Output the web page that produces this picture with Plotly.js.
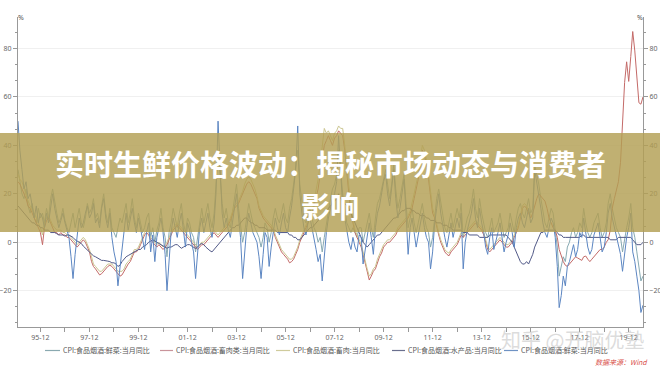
<!DOCTYPE html>
<html><head><meta charset="utf-8">
<script src="https://cdn.plot.ly/plotly-3.0.1.min.js"></script>
<style>html,body{margin:0;padding:0;background:#fff;}#chart{width:660px;height:367px;}</style>
</head><body><div id="chart"></div>
<script>
// ---------- data ----------
const startYear = 1995;           // first month: 1995-01 (month-end values)
const monthCount = 307;           // 1995-01 .. 2020-07

const seriesNames = [
  "CPI:食品烟酒:鲜菜:当月同比",
  "CPI:食品烟酒:畜肉类:当月同比",
  "CPI:食品烟酒:畜肉:当月同比",
  "CPI:食品烟酒:水产品:当月同比",
  "CPI:食品烟酒:鲜菜:当月同比"
];

const vegA = [
 30,26,20,18,22,15,12,16,10,8,14,10,
 12,8,14,10,18,22,16,12,8,10,14,9,
 6,4,8,12,6,10,14,8,6,10,16,12,
 14,18,10,12,8,15,20,12,8,14,6,4,
 2,6,10,8,12,16,8,12,18,10,6,12,
 8,4,6,10,12,2,6,0,5,8,14,6,
 2,-6,4,8,14,10,6,12,16,8,4,10,
 8,4,2,-4,2,10,14,8,12,16,10,6,
 12,24,36,28,16,10,14,8,6,12,18,24,
 14,6,0,4,10,16,12,8,6,4,2,-2,
 2,8,6,0,4,10,14,10,8,12,16,10,
 8,14,18,24,32,38,24,16,10,8,12,14,
 10,6,4,0,2,-4,2,8,14,18,22,24,
 28,38,30,20,14,8,6,4,6,4,2,6,
 6,0,4,8,12,6,2,10,16,18,22,26,
 30,24,18,24,32,22,14,18,24,28,16,6,
 10,14,8,4,8,12,16,10,6,4,-2,2,
 12,18,22,16,10,6,4,8,12,6,10,14,
 10,16,2,6,10,12,16,22,14,10,18,12,
 8,4,2,6,10,4,6,8,12,6,2,4,
 6,12,8,4,10,14,16,12,10,14,18,12,
 14,32,28,24,18,12,8,6,10,14,12,6,
 -2,-14,-10,-6,-8,-2,0,4,6,2,4,8,
 6,14,8,4,2,4,8,10,12,6,2,4,
 8,16,20,14,10,6,4,2,-4,2,6,10,
 16,6,2,-4,-10,-16,-14
];

const meatClass = [
 25,24,22,20,18,15,14,12,10,8,6,4,
 -1,6,9,10,8,6,4,4,3,4,3,3,
 2,2,1,0,-1,-2,-1,0,1,0,-2,-4,
 -8,-10,-11,-12,-13.5,-13,-12,-11,-10,-9.5,-10,-11,
 -12,-13,-14,-13.5,-12,-10,-9,-8,-6,-4,-4,-3,
 -1,1,3,4,3,1,0,-1,-2,-1,-2,-3,
 -2,-1,1,3,5,6,7,6,5,4,3,2,
 1,0,-1,-2,-3,-2,-1,-1,0,1,2,3,
 4,3,2,3,4,5,6,7,9,12,14,15,
 16,18,20,22,24,25,24,22,20,18,14,12,
 10,9,8,7,6,5,2,0,-2,-4,-5,-6,
 -7,-8.5,-8,-7,-5,-3,0,2,4,6,8,10,
 12,15,18,22,28,35,40,42,44,42,40,43,
 44,46,45,44,38,28,20,12,8,4,2,0,
 -2,-5,-9,-12,-15.6,-14,-12,-11,-8,-6,-4.5,-2,
 -1,0,0,1,2,3,5,6,7,8,9,10,
 12,14,18,22,26,32,38,36,32,26,18,12,
 10,6,3,0,-2,-4,-5,-5.6,-4,-3,-2,-1,
 1,3,2,3,4,5,6,7,8,7,6,5,
 3,0,-3,-4,-3,-2,-1,0,1,0,-1,-2,
 -2,-1,0,2,4,6,10,14,15,14,12,10,
 12,15,18,20,19,18,17,14,10,8,6,5,
 2,-3,-6,-8,-9.5,-10,-9,-8,-7,-6,-6.5,-7,
 -7.5,-6,-5.7,-7,-8,-7,-6,-5,-4,-3,-3,-2,
 0,1,5,14,18,21,25,33,47,66,74.5,66.4,
 76.7,87,79,68,57.6,57,60
];

const meat = [
 28,26,25,22,20,17,15,13,12,10,8,6,
 3,8,10,11,9,7,6,5,5,5,4,4,
 3,3,2,1,0,-1,0,1,2,1,-1,-3,
 -6,-9,-10,-11,-12,-12,-11,-10,-9,-9,-9,-10,
 -11,-12,-12,-12,-11,-9,-8,-7,-5,-3,-3,-2,
 0,2,4,5,4,2,1,0,-1,0,-1,-2,
 -1,0,2,4,6,7,8,7,6,5,4,3,
 2,1,0,-1,-2,-1,0,0,1,2,3,4,
 5,4,3,4,5,6,7,8,10,13,15,16,
 17,19,21,24,26,27,26,24,22,19,15,13,
 11,10,9,8,7,6,3,1,-1,-3,-4,-5,
 -6,-7,-7,-6,-4,-2,1,3,5,7,9,11,
 13,17,21,26,32,40,47,45,46,44,42,45,
 46,48,47,47,40,30,22,14,9,5,3,1,
 -1,-4,-8,-11,-14,-13,-11,-10,-7,-5,-3,-1,
 0,1,1,2,3,4,6,7,8,9,10,11,
 13,16,20,24,28,34,40,38,34,28,20,14,
 11,7,4,1,-1,-3,-4,-4.5,-3,-2,-1,0,
 2,4,3,4,5,6,7,8,9,8,7,6,
 4,1,-2,-3,-2,-1,0,1,2,1,0,-1,
 -1,0,1,3,5,7,11,15,16,15,13,11
];

const aquatic = [
 15,14,13,12,11,10,9,8,8,7,7,6,
 6,5,5,5,4,4,4,3.5,3,3,3,2.5,
 3,3,2.5,2,1,0.5,0,-0.5,-1.6,-2.5,-3,-4,
 -5,-5.6,-6,-6.5,-7,-7.5,-7.5,-7.8,-7.8,-8,-8.5,-8.5,
 -9,-10,-9.5,-8,-7,-6,-5.5,-5,-4.5,-4,-3.5,-3,
 -3,-2,-1.5,-1,0,0.5,1,0.5,0,-0.5,-1,-1.5,
 -2,-2.5,-2,-2,-1.5,-1,-1,-2,-2.5,-2,-1.5,-1,
 -1,-1.5,-2,-2.6,-2,-1,-0.5,-1,-2,-3,-3.5,-4,
 -3,-2,-1,0,1,2,3,4,5,6,6,7,
 7,8,9,10,10,9,8,8,7,7,6,6,
 6,6,5,5,5,5,5,4,4,4,4,4,
 4,3,3,2,2,1,1,2,3,4,5,6,
 6,7,8,9,10,11,12,13,14,15,16,17,
 18,20,18,17,16,15,14,12,10,8,6,4,
 2,0,-1,-2,-1,0,1,2,3,3,4,5,
 6,7,8,9,10,10,11,12,13,13,14,14,
 14,13,13,12,12,11,11,11,10,10,9,9,
 9,8,8,8,7,7,7,6,6,5,5,5,
 5,5,4,4,4,3,3,3,3,3,2,2,
 2,2,2,3,3,3,3,3,3,3,3,3,
 2,1,0,-2,-4,-6,-8,-9,-9,-8,-9,-7,
 -5,-2,0,2,4,4,5,5,5,5,5,5,
 4,3,3,2,2,2,2,2,2,2,2,2,
 3,3,2,2,2,2,2,2,2,2,2,2,
 2,2,1,1,1,1,2,2,2,2,2,2,
 2,1,0,-1,-1,-1,0
];

const vegB = [
 50,38,30,22,25,18,20,14,10,15,8,12,
 10,6,12,8,15,20,14,10,6,9,12,8,
 5,2,-6,-15,-5,4,10,6,8,12,15,10,
 12,16,8,10,6,14,18,10,6,12,2,-4,
 -8,-18,-10,-2,6,12,5,9,14,8,4,10,
 6,2,-3,4,8,-4,3,-8,2,6,10,4,
 -5,-20,-6,4,10,6,2,8,12,5,-2,8,
 5,0,-4,-15,-3,6,10,4,8,12,6,2,
 8,20,50,30,12,6,10,5,2,8,14,20,
 10,2,-15,-4,6,12,8,4,2,0,-6,-15,
 -5,4,2,-10,-2,5,10,6,3,8,12,6,
 4,10,15,22,30,48,20,12,6,3,8,10,
 6,2,-3,-8,-5,-16,-6,4,10,14,18,20,
 25,44,30,15,10,4,0,-3,2,-2,-4,3,
 2,-9,-3,4,8,2,-5,6,12,15,20,25,
 28,20,15,22,30,18,10,14,20,26,12,-5,
 6,10,4,-2,3,8,12,6,2,0,-11,-4,
 8,14,20,12,6,2,-2,4,8,2,6,10,
 6,12,-11,0,5,8,12,18,10,6,14,8,
 4,-2,-5,2,6,-3,0,4,8,2,-4,0,
 3,8,4,-2,6,10,12,8,6,10,14,8,
 10,30,25,20,14,8,4,2,6,10,8,2,
 -10,-27,-22,-14,-18,-10,-8,-4,-1,-6,-3,4,
 2,10,4,-2,-5,-3,3,6,8,2,-4,-2,
 4,12,16,10,6,2,-2,-5,-12,-4,2,6,
 12,-4,-8,-14,-20,-29,-26
];

const yTicks = [-20, 0, 20, 40, 60, 80];
const tickYearsFrom = 1995, tickYearsTo = 2019;
const titleLine1 = "实时生鲜价格波动：揭秘市场动态与消费者";
const titleLine2 = "影响";
const sourceText = "数据来源：Wind";
const watermarkText = "知乎 @开脑优塾";

// ---------- build ----------
function monthEnd(i){
  const y = startYear + Math.floor(i/12), m = i % 12;
  return new Date(Date.UTC(y, m+1, 0)).toISOString().slice(0,10);
}
const dates = [];
for (let i = 0; i < monthCount; i++) dates.push(monthEnd(i));

const tickVals = [], tickText = [];
for (let y = tickYearsFrom; y <= tickYearsTo; y++){
  tickVals.push(y + "-12-31");
  tickText.push((y - tickYearsFrom) % 2 === 0 ? String(y).slice(2) + "-12" : "");
}

const colors = ["#86a9b2", "#c46a68", "#cbc690", "#525a88", "#5c86c2"];
const legendColors = ["#8aa9b0", "#c9949b", "#cfcb9c", "#6a6f8e", "#6f93c4"];
const seriesData = [vegA, meatClass, meat, aquatic, vegB];

const traces = seriesData.map((arr, k) => ({
  x: dates.slice(0, arr.length), y: arr, type: "scatter", mode: "lines",
  name: seriesNames[k], line: {color: colors[k], width: 1}, hoverinfo: "skip",
  yaxis: k === 4 ? "y2" : "y"
}));

const W = 660, H = 367, mL = 18, mR = 17, mT = 17, mB = 40;
const pw = W - mL - mR, ph = H - mT - mB;
const px = v => (v - mL) / pw;
const py = v => (H - mB - v) / ph;

const tickFont = {family: "Noto Sans, DejaVu Sans, sans-serif", size: 7, color: "#666"};
const yBase = {
  range: [-35, 93], tickvals: yTicks, ticks: "outside", ticklen: 4, tickcolor: "#999",
  showline: true, linecolor: "#999", linewidth: 1, zeroline: false, tickfont: tickFont,
  minor: {dtick: 20/3, tick0: 0, ticks: "outside", ticklen: 2, tickcolor: "#999", showgrid: false},
  fixedrange: true
};

const legendItems = [
  {l0: 45, l1: 60, t: 61},
  {l0: 160, l1: 173, t: 174},
  {l0: 276, l1: 290, t: 291},
  {l0: 392, l1: 405, t: 406},
  {l0: 504, l1: 518, t: 519}
];
const legY = 350.5;

const shapes = [];
const annotations = [];
legendItems.forEach((it, k) => {
  shapes.push({type: "line", xref: "paper", yref: "paper", x0: px(it.l0), x1: px(it.l1),
    y0: py(legY), y1: py(legY), line: {color: legendColors[k], width: 1.2}});
  annotations.push({xref: "paper", yref: "paper", x: px(it.t), y: py(legY), xanchor: "left", yanchor: "middle",
    text: seriesNames[k], showarrow: false,
    font: {family: "Noto Sans CJK SC, sans-serif", size: 7, color: "#555"}});
});

// banner overlay
shapes.push({type: "rect", xref: "paper", yref: "paper", x0: px(0), x1: px(W), y0: py(232), y1: py(133),
  fillcolor: "rgba(178,159,83,0.82)", line: {width: 0}, layer: "above"});

annotations.push(
  {xref: "paper", yref: "paper", x: px(330), y: py(163), xanchor: "center", yanchor: "middle",
   text: "<b>" + titleLine1 + "</b>", showarrow: false,
   font: {family: "Noto Sans CJK SC, sans-serif", size: 29, color: "#ffffff"}},
  {xref: "paper", yref: "paper", x: px(330), y: py(205), xanchor: "center", yanchor: "middle",
   text: "<b>" + titleLine2 + "</b>", showarrow: false,
   font: {family: "Noto Sans CJK SC, sans-serif", size: 29, color: "#ffffff"}},
  {xref: "paper", yref: "paper", x: px(20.5), y: py(18), xanchor: "center", yanchor: "middle",
   text: "%", showarrow: false, font: {family: "Noto Sans, sans-serif", size: 7, color: "#555"}},
  {xref: "paper", yref: "paper", x: px(639.5), y: py(18), xanchor: "center", yanchor: "middle",
   text: "%", showarrow: false, font: {family: "Noto Sans, sans-serif", size: 7, color: "#555"}},
  {xref: "paper", yref: "paper", x: px(650), y: py(362), xanchor: "right", yanchor: "middle",
   text: "<i>" + sourceText + "</i>", showarrow: false,
   font: {family: "Noto Sans CJK SC, sans-serif", size: 7, color: "#d9504a"}},
  {xref: "paper", yref: "paper", x: px(572), y: py(339), xanchor: "center", yanchor: "middle",
   text: watermarkText, showarrow: false,
   font: {family: "Noto Sans CJK SC, sans-serif", size: 20, color: "rgba(185,185,185,0.5)"}}
);

const layout = {
  width: W, height: H, margin: {l: mL, r: mR, t: mT, b: mB, pad: 0},
  paper_bgcolor: "#ffffff", plot_bgcolor: "#ffffff", showlegend: false,
  xaxis: {type: "date", range: [dates[0], dates[monthCount-1]], tickvals: tickVals, ticktext: tickText,
    ticks: "outside", ticklen: 4, tickcolor: "#999", showline: true, linecolor: "#999", linewidth: 1,
    showgrid: false, zeroline: false, tickfont: tickFont, tickangle: 0, fixedrange: true},
  yaxis: Object.assign({}, yBase, {side: "left", showgrid: true, gridcolor: "#f0f0f0", gridwidth: 1}),
  yaxis2: Object.assign({}, yBase, {side: "right", overlaying: "y", showgrid: false}),
  shapes: shapes, annotations: annotations
};

Plotly.newPlot("chart", traces, layout, {staticPlot: true, displayModeBar: false});
</script>
</body></html>
